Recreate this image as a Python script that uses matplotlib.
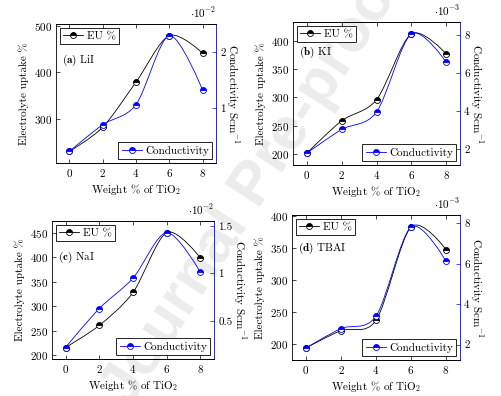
import matplotlib
matplotlib.use('Agg')
import matplotlib.pyplot as plt
from matplotlib.path import Path
from matplotlib.patches import PathPatch
from matplotlib.lines import Line2D
from matplotlib.ticker import MultipleLocator, FuncFormatter

plt.rcParams['font.family'] = 'cmr10'
plt.rcParams['mathtext.fontset'] = 'cm'
plt.rcParams['axes.formatter.use_mathtext'] = True
plt.rcParams['font.size'] = 8

weight = [0, 2, 4, 6, 8]

# electrolyte uptake (%) and conductivity (scaled) for each salt
eu_lii = [230, 282, 379, 479, 441]
cond_lii = [0.22, 0.70, 1.06, 2.30, 1.32]      # x 10^-2
eu_ki = [202, 259, 296, 412, 377]
cond_ki = [1.80, 3.04, 3.95, 8.05, 6.57]       # x 10^-3
eu_nai = [216, 261, 328, 450, 398]
cond_nai = [0.22, 0.63, 0.95, 1.43, 1.01]      # x 10^-2
eu_tbai = [194, 221, 237, 382, 347]
cond_tbai = [1.84, 2.80, 3.41, 7.82, 6.13]     # x 10^-3

W, H = 501, 396


def smooth_path(x, y, t=0.15):
    # cubic bezier through the points, like tikz "smooth"
    pts = list(zip(x, y))
    n = len(pts)
    verts = [pts[0]]
    codes = [Path.MOVETO]
    for i in range(n - 1):
        p0 = pts[i]
        p1 = pts[i + 1]
        if i == 0:
            c1 = p0
        else:
            pm = pts[i - 1]
            c1 = (p0[0] + t * (p1[0] - pm[0]), p0[1] + t * (p1[1] - pm[1]))
        if i + 1 == n - 1:
            c2 = p1
        else:
            pn = pts[i + 2]
            c2 = (p1[0] - t * (pn[0] - p0[0]), p1[1] - t * (pn[1] - p0[1]))
        verts += [c1, c2, p1]
        codes += [Path.CURVE4] * 3
    return Path(verts, codes)


def enlarged(vals):
    lo, hi = min(vals), max(vals)
    r = hi - lo
    return lo - 0.1 * r, hi + 0.1 * r


def series(ax, y, color):
    ax.add_patch(PathPatch(smooth_path(weight, y), fill=False, edgecolor=color, lw=0.6))
    ax.plot(weight, y, ls='none', marker='o', ms=4.3, fillstyle='top', mfc=color,
            mfcalt='white', mec=color, mew=0.6)


def handle(color):
    return Line2D([], [], color=color, lw=0.6, marker='o', ms=4.3, fillstyle='top',
                  mfc=color, mfcalt='white', mec=color, mew=0.6)


fig = plt.figure(figsize=(W / 100, H / 100), dpi=100)

fig.text(0.51, 0.53, 'Journal Pre-proof', rotation=57, fontsize=44, color='#ececec',
         family='Liberation Sans', weight='bold', ha='center', va='center', zorder=-1)

panels = [
    (eu_lii, cond_lii, r'$\mathbf{(a)}$ LiI', -2, (56, 216, 24, 163), 100, 1, 0.74),
    (eu_ki, cond_ki, r'$\mathbf{(b)}$ KI', -3, (293, 460, 22, 165), 50, 2, 0.79),
    (eu_nai, cond_nai, r'$\mathbf{(c)}$ NaI', -2, (52, 214, 221, 359), 50, 0.5, 0.74),
    (eu_tbai, cond_tbai, r'$\mathbf{(d)}$ TBAI', -3, (292, 460, 215, 360), 50, 2, 0.77),
]

for eu, cond, name, expo, box, lstep, rstep, ty in panels:
    x0, x1, y0, y1 = box
    ax = fig.add_axes([x0 / W, 1 - y1 / H, (x1 - x0) / W, (y1 - y0) / H])
    ax.set_facecolor('none')
    ax2 = ax.twinx()

    series(ax, eu, 'black')
    series(ax2, cond, 'blue')

    ax.set_xlim(-0.8, 8.8)
    ax.set_ylim(*enlarged(eu))
    ax2.set_ylim(*enlarged(cond))
    ax.xaxis.set_major_locator(MultipleLocator(2))
    ax.yaxis.set_major_locator(MultipleLocator(lstep))
    ax2.yaxis.set_major_locator(MultipleLocator(rstep))
    ax2.yaxis.set_major_formatter(FuncFormatter(lambda v, p: f'{v:g}'))

    for a in (ax, ax2):
        for s in a.spines.values():
            s.set_linewidth(0.6)
    ax2.spines['right'].set_color('blue')
    ax2.spines['left'].set_visible(False)
    ax.spines['right'].set_visible(False)

    ax.tick_params(direction='in', length=3, width=0.5, top=True, pad=3)
    ax2.tick_params(axis='y', direction='in', length=3, width=0.5, color='blue', pad=3)

    ax.set_xlabel('Weight % of TiO$_2$', labelpad=2)
    ax.set_ylabel('Electrolyte uptake %', labelpad=3)
    ax2.set_ylabel('Conductivity Scm$^{-1}$', rotation=270, labelpad=11)

    ax2.text(1.0, 1.03, r'$\cdot 10^{%d}$' % expo, transform=ax2.transAxes,
             ha='right', va='bottom')
    ax.text(0.035, ty, name, transform=ax.transAxes, va='center', ha='left')

    leg = ax.legend(handles=[handle('black')], labels=['EU %'], loc='upper left',
                    fancybox=False, edgecolor='black', framealpha=1, borderpad=0.3,
                    handlelength=1.8, handletextpad=0.3, borderaxespad=0.35)
    leg.get_frame().set_linewidth(0.6)
    leg2 = ax2.legend(handles=[handle('blue')], labels=['Conductivity'], loc='lower right',
                      fancybox=False, edgecolor='black', framealpha=1, borderpad=0.3,
                      handlelength=1.8, handletextpad=0.3, borderaxespad=0.35)
    leg2.get_frame().set_linewidth(0.6)

fig.savefig('out.png', dpi=100)
